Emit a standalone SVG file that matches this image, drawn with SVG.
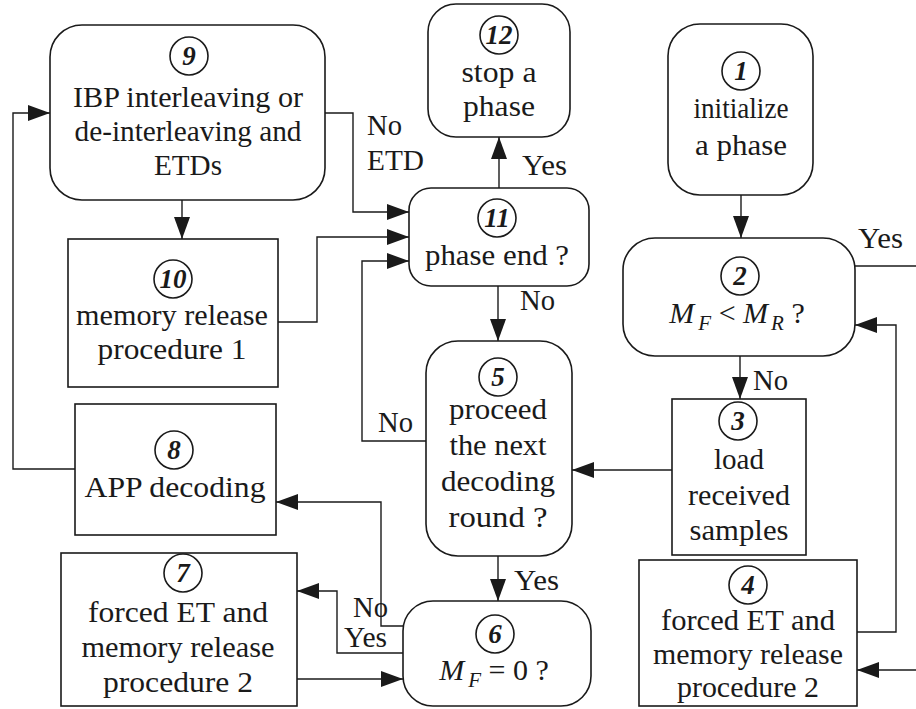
<svg xmlns="http://www.w3.org/2000/svg" width="916" height="709" viewBox="0 0 916 709" font-family="Liberation Serif, Times New Roman, DejaVu Serif, serif">
<style>
.n{fill:#fff;stroke:#1a1a1a;stroke-width:1.6}
.c{fill:none;stroke:#1a1a1a;stroke-width:1.4}
.t{font-size:30px;fill:#1a1a1a;text-anchor:middle}
.l{font-size:30px;fill:#1a1a1a}
.num{font-size:27px;font-weight:bold;font-style:italic;fill:#1a1a1a;text-anchor:middle}
.i{font-style:italic}
.s{font-style:italic;font-size:21px}
.w{fill:#1a1a1a}
</style>
<defs>
<marker id="a" viewBox="0 0 22 16" refX="22" refY="8" markerWidth="22" markerHeight="16" markerUnits="userSpaceOnUse" orient="auto">
<path d="M0,0 L22,8 L0,16 z" class="w"/>
</marker>
</defs>
<g id="connectors">
<path class="c" d="M741,195 V238" marker-end="url(#a)"/>
<path class="c" d="M855,266 H916"/>
<path class="c" d="M740,356 V399" marker-end="url(#a)"/>
<path class="c" d="M672,470 H572" marker-end="url(#a)"/>
<path class="c" d="M857,632 H896 V325 H855" marker-end="url(#a)"/>
<path class="c" d="M916,670 H857" marker-end="url(#a)"/>
<path class="c" d="M498,556 V601" marker-end="url(#a)"/>
<path class="c" d="M498,286 V341" marker-end="url(#a)"/>
<path class="c" d="M499,188 V137" marker-end="url(#a)"/>
<path class="c" d="M325,113 H353 V212 H409" marker-end="url(#a)"/>
<path class="c" d="M278,322 H317 V237 H409" marker-end="url(#a)"/>
<path class="c" d="M426,441 H362 V261 H409" marker-end="url(#a)"/>
<path class="c" d="M182,200 V239" marker-end="url(#a)"/>
<path class="c" d="M75,469 H13 V113 H50" marker-end="url(#a)"/>
<path class="c" d="M403,626 H381 V502 H276" marker-end="url(#a)"/>
<path class="c" d="M403,653 H337 V591 H297" marker-end="url(#a)"/>
<path class="c" d="M297,679 H403" marker-end="url(#a)"/>
<text class="l" x="858" y="248" textLength="45" lengthAdjust="spacingAndGlyphs">Yes</text>
<text class="l" x="753" y="390" textLength="35" lengthAdjust="spacingAndGlyphs">No</text>
<text class="l" x="514" y="590" textLength="45" lengthAdjust="spacingAndGlyphs">Yes</text>
<text class="l" x="520" y="310" textLength="35" lengthAdjust="spacingAndGlyphs">No</text>
<text class="l" x="522" y="175" textLength="45" lengthAdjust="spacingAndGlyphs">Yes</text>
<text class="l" x="367" y="135" textLength="35" lengthAdjust="spacingAndGlyphs">No</text>
<text class="l" x="367" y="170" textLength="57" lengthAdjust="spacingAndGlyphs">ETD</text>
<text class="l" x="378" y="432" textLength="35" lengthAdjust="spacingAndGlyphs">No</text>
<text class="l" x="353" y="617" textLength="35" lengthAdjust="spacingAndGlyphs">No</text>
<text class="l" x="344" y="647" textLength="43" lengthAdjust="spacingAndGlyphs">Yes</text>
</g>
<g id="node1">
<rect class="n" x="668" y="24" width="145" height="171" rx="32"/>
<circle class="n" cx="741" cy="71" r="19"/>
<text class="num" x="741" y="80">1</text>
<text class="t" x="741" y="118" textLength="95" lengthAdjust="spacingAndGlyphs">initialize</text>
<text class="t" x="741" y="155" textLength="92" lengthAdjust="spacingAndGlyphs">a phase</text>
</g>
<g id="node2">
<rect class="n" x="623" y="238" width="232" height="118" rx="32"/>
<circle class="n" cx="740" cy="276" r="19"/>
<text class="num" x="740" y="285">2</text>
<text class="t" x="737" y="323"><tspan class="i">M</tspan><tspan class="s" dx="4" dy="7">F</tspan><tspan dy="-7"> &lt; </tspan><tspan class="i">M</tspan><tspan class="s" dx="3" dy="7">R</tspan><tspan dy="-7"> ?</tspan></text>
</g>
<g id="node3">
<rect class="n" x="672" y="399" width="134" height="156"/>
<circle class="n" cx="738" cy="421" r="19"/>
<text class="num" x="738" y="430">3</text>
<text class="t" x="739" y="469" textLength="50" lengthAdjust="spacingAndGlyphs">load</text>
<text class="t" x="739" y="505" textLength="102" lengthAdjust="spacingAndGlyphs">received</text>
<text class="t" x="739" y="540" textLength="99" lengthAdjust="spacingAndGlyphs">samples</text>
</g>
<g id="node4">
<rect class="n" x="639" y="560" width="218" height="146"/>
<circle class="n" cx="748" cy="585" r="19"/>
<text class="num" x="748" y="594">4</text>
<text class="t" x="748" y="630" textLength="174" lengthAdjust="spacingAndGlyphs">forced ET and</text>
<text class="t" x="748" y="664" textLength="190" lengthAdjust="spacingAndGlyphs">memory release</text>
<text class="t" x="748" y="697" textLength="142" lengthAdjust="spacingAndGlyphs">procedure 2</text>
</g>
<g id="node5">
<rect class="n" x="426" y="341" width="146" height="215" rx="32"/>
<circle class="n" cx="498" cy="377" r="19"/>
<text class="num" x="498" y="386">5</text>
<text class="t" x="498" y="419" textLength="98" lengthAdjust="spacingAndGlyphs">proceed</text>
<text class="t" x="498" y="455" textLength="97" lengthAdjust="spacingAndGlyphs">the next</text>
<text class="t" x="498" y="491" textLength="114" lengthAdjust="spacingAndGlyphs">decoding</text>
<text class="t" x="498" y="527" textLength="99" lengthAdjust="spacingAndGlyphs">round ?</text>
</g>
<g id="node6">
<rect class="n" x="403" y="601" width="188" height="105" rx="30"/>
<circle class="n" cx="495" cy="634" r="19"/>
<text class="num" x="495" y="643">6</text>
<text class="t" x="494" y="680"><tspan class="i">M</tspan><tspan class="s" dx="4" dy="7">F</tspan><tspan dy="-7"> = 0 ?</tspan></text>
</g>
<g id="node7">
<rect class="n" x="61" y="553" width="236" height="153"/>
<circle class="n" cx="183" cy="573" r="19"/>
<text class="num" x="183" y="582">7</text>
<text class="t" x="178" y="622" textLength="180" lengthAdjust="spacingAndGlyphs">forced ET and</text>
<text class="t" x="178" y="657" textLength="193" lengthAdjust="spacingAndGlyphs">memory release</text>
<text class="t" x="178" y="692" textLength="150" lengthAdjust="spacingAndGlyphs">procedure 2</text>
</g>
<g id="node8">
<rect class="n" x="75" y="404" width="201" height="131"/>
<circle class="n" cx="174" cy="450" r="19"/>
<text class="num" x="174" y="459">8</text>
<text class="t" x="175" y="497" textLength="181" lengthAdjust="spacingAndGlyphs">APP decoding</text>
</g>
<g id="node9">
<rect class="n" x="50" y="25" width="275" height="175" rx="32"/>
<circle class="n" cx="189" cy="56" r="19"/>
<text class="num" x="189" y="65">9</text>
<text class="t" x="188" y="107" textLength="230" lengthAdjust="spacingAndGlyphs">IBP interleaving or</text>
<text class="t" x="188" y="141" textLength="227" lengthAdjust="spacingAndGlyphs">de-interleaving and</text>
<text class="t" x="188" y="175" textLength="68" lengthAdjust="spacingAndGlyphs">ETDs</text>
</g>
<g id="node10">
<rect class="n" x="68" y="239" width="210" height="148"/>
<circle class="n" cx="173" cy="279" r="19"/>
<text class="num" x="173" y="288">10</text>
<text class="t" x="172" y="325" textLength="192" lengthAdjust="spacingAndGlyphs">memory release</text>
<text class="t" x="172" y="359" textLength="149" lengthAdjust="spacingAndGlyphs">procedure 1</text>
</g>
<g id="node11">
<rect class="n" x="409" y="188" width="180" height="98" rx="22"/>
<circle class="n" cx="497" cy="218" r="19"/>
<text class="num" x="497" y="227">11</text>
<text class="t" x="497" y="265" textLength="144" lengthAdjust="spacingAndGlyphs">phase end ?</text>
</g>
<g id="node12">
<rect class="n" x="428" y="4" width="142" height="133" rx="28"/>
<circle class="n" cx="499" cy="35" r="19"/>
<text class="num" x="499" y="44">12</text>
<text class="t" x="499" y="82" textLength="75" lengthAdjust="spacingAndGlyphs">stop a</text>
<text class="t" x="499" y="116" textLength="72" lengthAdjust="spacingAndGlyphs">phase</text>
</g>
</svg>
